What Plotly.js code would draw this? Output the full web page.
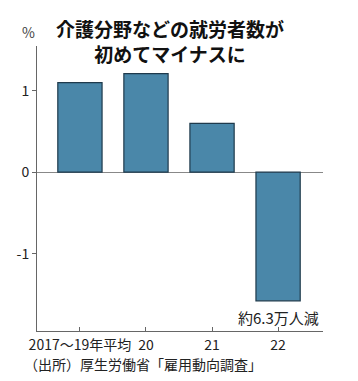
<!DOCTYPE html>
<html><head><meta charset="utf-8">
<script src="https://cdn.plot.ly/plotly-3.0.1.min.js"></script>
<style>body{margin:0;background:#fff}#c{width:358px;height:381px}</style>
</head><body><div id="c"></div>
<script>
const categories = ["2017～19年平均", "20", "21", "22"];
const values = [1.10, 1.21, 0.60, -1.58];
const yTickVals = [-1, 0, 1];
const yTickText = ["-1", "0", "1"];
const titleLines = ["介護分野などの就労者数が", "初めてマイナスに"];
const noteText = "約6.3万人減";
const sourceText = "（出所）厚生労働省「雇用動向調査」";
const F = "Noto Sans CJK JP, sans-serif";

const M = {l: 37, r: 35, t: 46, b: 50};
const W = 358 - M.l - M.r, H = 381 - M.t - M.b;
const px = x => (x - M.l) / W;
const py = y => (381 - M.b - y) / H;

Plotly.newPlot("c", [{
  type: "bar", x: [0,1,2,3], y: values, width: 0.67,
  marker: {color: "#4a87a9", line: {color: "#1f3a4c", width: 1.2}},
  hoverinfo: "skip"
}], {
  width: 358, height: 381,
  margin: M,
  paper_bgcolor: "#fff", plot_bgcolor: "#fff",
  showlegend: false,
  xaxis: {range: [-0.65, 3.68], tickvals: [0,1,2,3], ticktext: categories,
          showline: true, linecolor: "#666", linewidth: 1, ticks: "inside", ticklen: 4,
          tickcolor: "#666", showgrid: false, zeroline: false, fixedrange: true,
          ticklabelstandoff: 1,
          tickfont: {family: F, size: 14, color: "#222"}},
  yaxis: {range: [-1.95, 1.55], tickvals: yTickVals, ticktext: yTickText,
          showline: true, linecolor: "#666", linewidth: 1, ticks: "outside", ticklen: 4,
          tickcolor: "#666", showgrid: false, zeroline: true, zerolinecolor: "#888",
          zerolinewidth: 1, fixedrange: true,
          tickfont: {family: F, size: 14, color: "#222"}},
  annotations: [
    {x: 3, y: values[3], xref: "x", yref: "y", text: noteText, showarrow: false,
     yanchor: "top", yshift: -4, font: {family: F, size: 15, color: "#222"}},
    {x: px(28), y: py(32), xref: "paper", yref: "paper", text: "%", showarrow: false,
     xanchor: "center", yanchor: "middle", font: {family: F, size: 14, color: "#444"}},
    {x: px(22), y: py(364), xref: "paper", yref: "paper", text: sourceText, showarrow: false,
     xanchor: "left", yanchor: "middle", font: {family: F, size: 14, color: "#222"}},
    {x: px(170), y: py(41), xref: "paper", yref: "paper",
     text: "<b>" + titleLines.join("<br>") + "</b>", showarrow: false,
     xanchor: "center", yanchor: "middle", align: "center",
     font: {family: F, size: 19, color: "#111"}}
  ]
}, {staticPlot: true});
</script></body></html>
